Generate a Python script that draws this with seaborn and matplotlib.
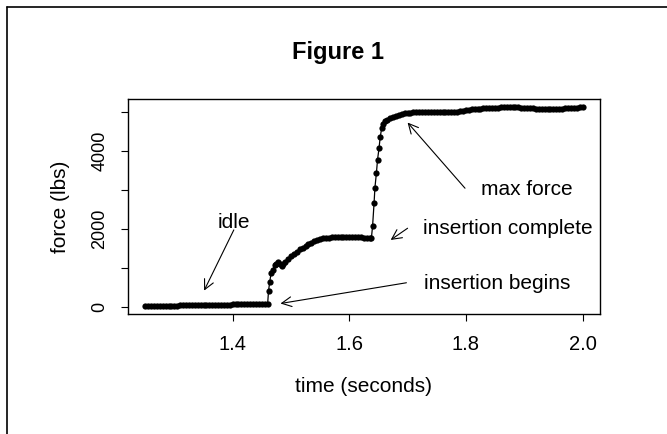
import numpy as np
import pandas as pd
import matplotlib
matplotlib.use("Agg")
import matplotlib.pyplot as plt
from matplotlib.lines import Line2D
import seaborn as sns

# ---- data ----
time_idle = [1.250, 1.255, 1.260, 1.265, 1.270, 1.275, 1.280, 1.285, 1.290, 1.295,
             1.300, 1.305, 1.310, 1.315, 1.320, 1.325, 1.330, 1.335, 1.340, 1.345,
             1.350, 1.355, 1.360, 1.365, 1.370, 1.375, 1.380, 1.385, 1.390, 1.395,
             1.400, 1.405, 1.410, 1.415, 1.420, 1.425, 1.430, 1.435, 1.440, 1.445,
             1.450, 1.455, 1.460]
force_idle = [18, 15, 14, 12, 12, 14, 15, 16, 18, 20,
              22, 24, 45, 50, 48, 47, 46, 46, 47, 48,
              48, 49, 50, 50, 50, 51, 52, 52, 53, 54,
              55, 56, 58, 60, 62, 63, 64, 65, 66, 67,
              68, 69, 70]

time_rise1 = [1.4615, 1.4635, 1.4660, 1.4690, 1.4720, 1.4750, 1.4780, 1.4810,
              1.4840, 1.4870, 1.4900]
force_rise1 = [400, 630, 860, 940, 1060, 1100, 1150, 1100, 1045, 1090, 1150]

time_curve = [1.495, 1.500, 1.505, 1.510, 1.515, 1.520, 1.525, 1.530, 1.535, 1.540,
              1.545, 1.550, 1.555, 1.560, 1.565, 1.570, 1.575, 1.580, 1.585, 1.590,
              1.595, 1.600, 1.605, 1.610, 1.615, 1.620, 1.625, 1.630, 1.635, 1.638]
force_curve = [1220, 1290, 1350, 1410, 1465, 1515, 1560, 1600, 1640, 1675,
               1705, 1730, 1750, 1762, 1770, 1775, 1778, 1780, 1780, 1780,
               1779, 1778, 1778, 1776, 1775, 1774, 1772, 1770, 1768, 1765]

time_rise2 = [1.6400, 1.6425, 1.6440, 1.6465, 1.6485, 1.6510, 1.6530, 1.6555,
              1.6580, 1.6610, 1.6650, 1.6700, 1.6750, 1.6800, 1.6850, 1.6900,
              1.6950, 1.7000]
force_rise2 = [2070, 2650, 3050, 3420, 3770, 4060, 4340, 4570,
               4680, 4750, 4790, 4830, 4860, 4890, 4920, 4940,
               4955, 4965]

time_plateau = [1.705, 1.710, 1.715, 1.720, 1.725, 1.730, 1.735, 1.740, 1.745, 1.750,
                1.755, 1.760, 1.765, 1.770, 1.775, 1.780, 1.785, 1.790, 1.795, 1.800,
                1.805, 1.810, 1.815, 1.820, 1.825, 1.830, 1.835, 1.840, 1.845, 1.850,
                1.855, 1.860, 1.865, 1.870, 1.875, 1.880, 1.885, 1.890, 1.895, 1.900,
                1.905, 1.910, 1.915, 1.920, 1.925, 1.930, 1.935, 1.940, 1.945, 1.950,
                1.955, 1.960, 1.965, 1.970, 1.975, 1.980, 1.985, 1.990, 1.995, 2.000]
force_plateau = [4970, 4980, 4990, 5000, 5000, 5000, 4995, 4990, 4985, 4980,
                 4978, 4978, 4980, 4985, 4990, 4995, 5000, 5005, 5015, 5030,
                 5045, 5055, 5060, 5065, 5075, 5085, 5090, 5095, 5098, 5100,
                 5105, 5110, 5110, 5112, 5112, 5110, 5110, 5108, 5105, 5100,
                 5095, 5090, 5085, 5080, 5075, 5070, 5065, 5062, 5060, 5062,
                 5068, 5075, 5080, 5085, 5090, 5095, 5100, 5105, 5108, 5110]

x_ticks = [1.4, 1.6, 1.8, 2.0]
x_tick_labels = ["1.4", "1.6", "1.8", "2.0"]
y_ticks = [0, 1000, 2000, 3000, 4000, 5000]
y_tick_labels = ["0", "", "2000", "", "4000", ""]

annotations = ["idle", "insertion begins", "insertion complete", "max force"]

# ---- build table ----
df = pd.DataFrame({
    "time": time_idle + time_rise1 + time_curve + time_rise2 + time_plateau,
    "force": force_idle + force_rise1 + force_curve + force_rise2 + force_plateau,
})

sns.set_style("ticks")
plt.rcParams["font.family"] = ["Liberation Sans", "DejaVu Sans"]
plt.rcParams["text.color"] = "black"
plt.rcParams["axes.labelcolor"] = "black"
plt.rcParams["xtick.color"] = "black"
plt.rcParams["ytick.color"] = "black"
plt.rcParams["axes.edgecolor"] = "black"

W, H = 667, 434
fig = plt.figure(figsize=(W / 100, H / 100), dpi=100)
ax = fig.add_axes([127.7 / W, 1 - 314 / H, (600 - 127.7) / W, (314 - 99.3) / H])

sns.lineplot(data=df, x="time", y="force", ax=ax, color="black", linewidth=0.9,
             marker="o", markersize=4.5, markeredgewidth=0, sort=True)

ax.set_xlim(1.22, 2.03)
ax.set_ylim(-189, 5316)
ax.set_xticks(x_ticks)
ax.set_xticklabels(x_tick_labels, fontsize=14.5, color="black")
ax.set_yticks(y_ticks)
ax.set_yticklabels(y_tick_labels, fontsize=13, rotation=90, va="center", color="black")
ax.tick_params(axis="x", length=5, width=0.8, pad=10, color="black")
ax.tick_params(axis="y", length=5, width=0.8, pad=9, color="black")
ax.set_xlabel("")
ax.set_ylabel("")
for s in ax.spines.values():
    s.set_visible(True)
    s.set_linewidth(1.0)
    s.set_color("black")

# annotations
fs = 15
ax.text(1.402, 2160, annotations[0], fontsize=fs, ha="center", va="center", color="black")
ax.text(1.8533, 600, annotations[1], fontsize=fs, ha="center", va="center", color="black")
ax.text(1.8715, 2010, annotations[2], fontsize=fs, ha="center", va="center", color="black")
ax.text(1.9044, 3013, annotations[3], fontsize=fs, ha="center", va="center", color="black")

arrow_kw = dict(arrowstyle="->,head_length=0.7,head_width=0.35", color="black",
                lw=0.8, shrinkA=0, shrinkB=0, mutation_scale=10)
ax.annotate("", xy=(1.351, 410), xytext=(1.402, 1967), arrowprops=arrow_kw)
ax.annotate("", xy=(1.482, 80), xytext=(1.698, 612), arrowprops=arrow_kw)
ax.annotate("", xy=(1.671, 1710), xytext=(1.700, 2010), arrowprops=arrow_kw)
ax.annotate("", xy=(1.700, 4720), xytext=(1.7985, 3036), arrowprops=arrow_kw)

# titles / labels placed in figure pixels
fig.text(337.7 / W, 1 - 53 / H, "Figure 1", fontsize=17, fontweight="bold",
         ha="center", va="center", color="black")
fig.text(363.5 / W, 1 - 386 / H, "time (seconds)", fontsize=15, ha="center", va="center",
         color="black")
fig.text(60 / W, 1 - 206.7 / H, "force (lbs)", fontsize=15, ha="center", va="center",
         rotation=90, color="black")

# outer frame lines (left and top)
fig.add_artist(Line2D([6.5 / W, 6.5 / W], [0, 1 - 6.5 / H], transform=fig.transFigure,
                      color="black", lw=1.2))
fig.add_artist(Line2D([6.5 / W, 1], [1 - 6.5 / H, 1 - 6.5 / H], transform=fig.transFigure,
                      color="black", lw=1.2))

fig.savefig("out.png", dpi=100, facecolor="white")
